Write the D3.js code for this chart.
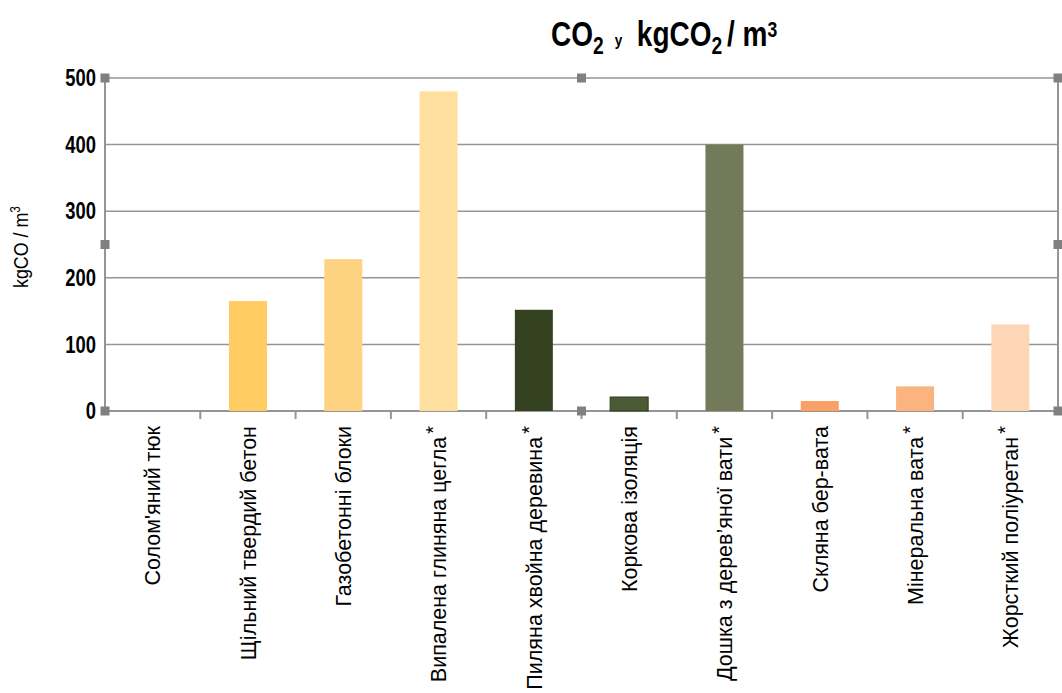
<!DOCTYPE html>
<html>
<head>
<meta charset="utf-8">
<script src="https://cdn.jsdelivr.net/npm/d3@7"></script>
<style>
  body { margin: 0; background: #fff; }
  svg { display: block; }
</style>
</head>
<body>
<script>
// chart data
const categories = [
  "Солом'яний тюк",
  "Щільний твердий бетон",
  "Газобетонні блоки",
  "Випалена глиняна цегла",
  "Пиляна хвойна деревина",
  "Коркова ізоляція",
  "Дошка з дерев’яної вати",
  "Скляна бер-вата",
  "Мінеральна вата",
  "Жорсткий поліуретан"
];
const values = [0, 165, 228, 480, 152, 21, 400, 15, 37, 130];
const starred = [false, false, false, true, true, false, true, false, true, true];
const barColors = ["#ffcb62", "#ffcb62", "#fdd382", "#ffdf9e", "#344222",
                   "#4c5a35", "#727a5a", "#f9a064", "#fbb47e", "#fdd6b5"];
const yTicks = [0, 100, 200, 300, 400, 500];

const width = 1062;
const height = 693;
const margin = { top: 78, right: 4, bottom: 282, left: 105 };
const condensed = "'Liberation Sans', Arial, sans-serif";
const grey = "#959595";

const svg = d3.select('body')
  .append('svg')
  .attr('width', width)
  .attr('height', height);

// scales
const xScale = d3.scaleBand()
  .domain(categories)
  .range([margin.left, width - margin.right])
  .paddingInner(0)
  .paddingOuter(0);

const yScale = d3.scaleLinear()
  .domain([0, 500])
  .range([height - margin.bottom, margin.top]);

const x0 = margin.left, x1 = width - margin.right;

// gridlines
svg.append('g')
  .selectAll('line')
  .data(yTicks)
  .join('line')
  .attr('x1', x0)
  .attr('x2', x1)
  .attr('y1', d => yScale(d))
  .attr('y2', d => yScale(d))
  .attr('stroke', grey)
  .attr('stroke-width', d => d === 0 ? 2 : 1.5);

// left / right axis lines
svg.append('line')
  .attr('x1', x0).attr('x2', x0)
  .attr('y1', yScale(500)).attr('y2', yScale(0))
  .attr('stroke', grey).attr('stroke-width', 2);
svg.append('line')
  .attr('x1', x1).attr('x2', x1)
  .attr('y1', yScale(500)).attr('y2', yScale(0))
  .attr('stroke', grey).attr('stroke-width', 2);

// x tick marks between categories
svg.append('g')
  .selectAll('line')
  .data(categories.slice(1))
  .join('line')
  .attr('x1', d => xScale(d))
  .attr('x2', d => xScale(d))
  .attr('y1', yScale(0))
  .attr('y2', yScale(0) + 8)
  .attr('stroke', grey)
  .attr('stroke-width', 2);

// bars
const barW = 38;
svg.append('g')
  .selectAll('rect')
  .data(values)
  .join('rect')
  .attr('x', (d, i) => xScale(categories[i]) + xScale.bandwidth() / 2 - barW / 2)
  .attr('y', d => yScale(d))
  .attr('width', barW)
  .attr('height', d => yScale(0) - yScale(d))
  .attr('fill', (d, i) => barColors[i])
  .attr('stroke', (d, i) => i === 5 ? "#2e3a1e" : "none")
  .attr('stroke-width', 1);

// selection handles
const handles = [
  [x0, 500], [(x0 + x1) / 2, 500], [x1, 500],
  [x0, 250], [x1, 250],
  [x0, 0], [(x0 + x1) / 2, 0], [x1, 0]
];
svg.append('g')
  .selectAll('rect')
  .data(handles)
  .join('rect')
  .attr('x', d => d[0] - 4.5)
  .attr('y', d => yScale(d[1]) - 4.5)
  .attr('width', 9)
  .attr('height', 9)
  .attr('fill', "#808080");

// y tick labels (squeezed horizontally to look condensed)
svg.append('g')
  .selectAll('text')
  .data(yTicks)
  .join('text')
  .attr('transform', d => `translate(96, ${yScale(d)}) scale(0.8, 1)`)
  .attr('dy', '0.36em')
  .attr('text-anchor', 'end')
  .style('font-family', condensed)
  .style('font-weight', 'bold')
  .style('font-size', '23px')
  .text(d => d);

// y axis title
const yTitle = svg.append('text')
  .attr('transform', `translate(28, 247) rotate(-90) scale(0.85, 1)`)
  .attr('text-anchor', 'middle')
  .style('font-family', condensed)
  .style('font-size', '21px');
yTitle.append('tspan').text('kgCO / m');
yTitle.append('tspan').attr('baseline-shift', 'super').style('font-size', '14px').text('3');

// category labels
const labels = svg.append('g')
  .selectAll('text')
  .data(categories)
  .join('text')
  .attr('transform', d => `translate(${xScale(d) + xScale.bandwidth() / 2}, 426) rotate(-90)`)
  .attr('dy', '0.36em')
  .attr('text-anchor', 'end')
  .style('font-family', "'Liberation Sans', Arial, sans-serif")
  .style('font-size', '21.5px');
labels.append('tspan').text(d => d);
labels.filter((d, i) => starred[i])
  .append('tspan')
  .attr('dx', 3)
  .attr('baseline-shift', '30%')
  .style('font-size', '20px')
  .text('*');

// chart title
const title = svg.append('text')
  .attr('transform', 'translate(551, 46) scale(0.8, 1)')
  .style('font-family', condensed)
  .style('font-weight', 'bold')
  .style('font-size', '35px');
title.append('tspan').text('CO');
title.append('tspan').attr('baseline-shift', '-30%').style('font-size', '24px').text('2');
title.append('tspan').attr('dx', 14).style('font-size', '17px').text('у');
title.append('tspan').attr('dx', 18).text('kgCO');
title.append('tspan').attr('baseline-shift', '-30%').style('font-size', '24px').text('2');
title.append('tspan').attr('dx', 6).text('/ m');
title.append('tspan').attr('baseline-shift', '40%').style('font-size', '22px').text('3');
</script>
</body>
</html>
